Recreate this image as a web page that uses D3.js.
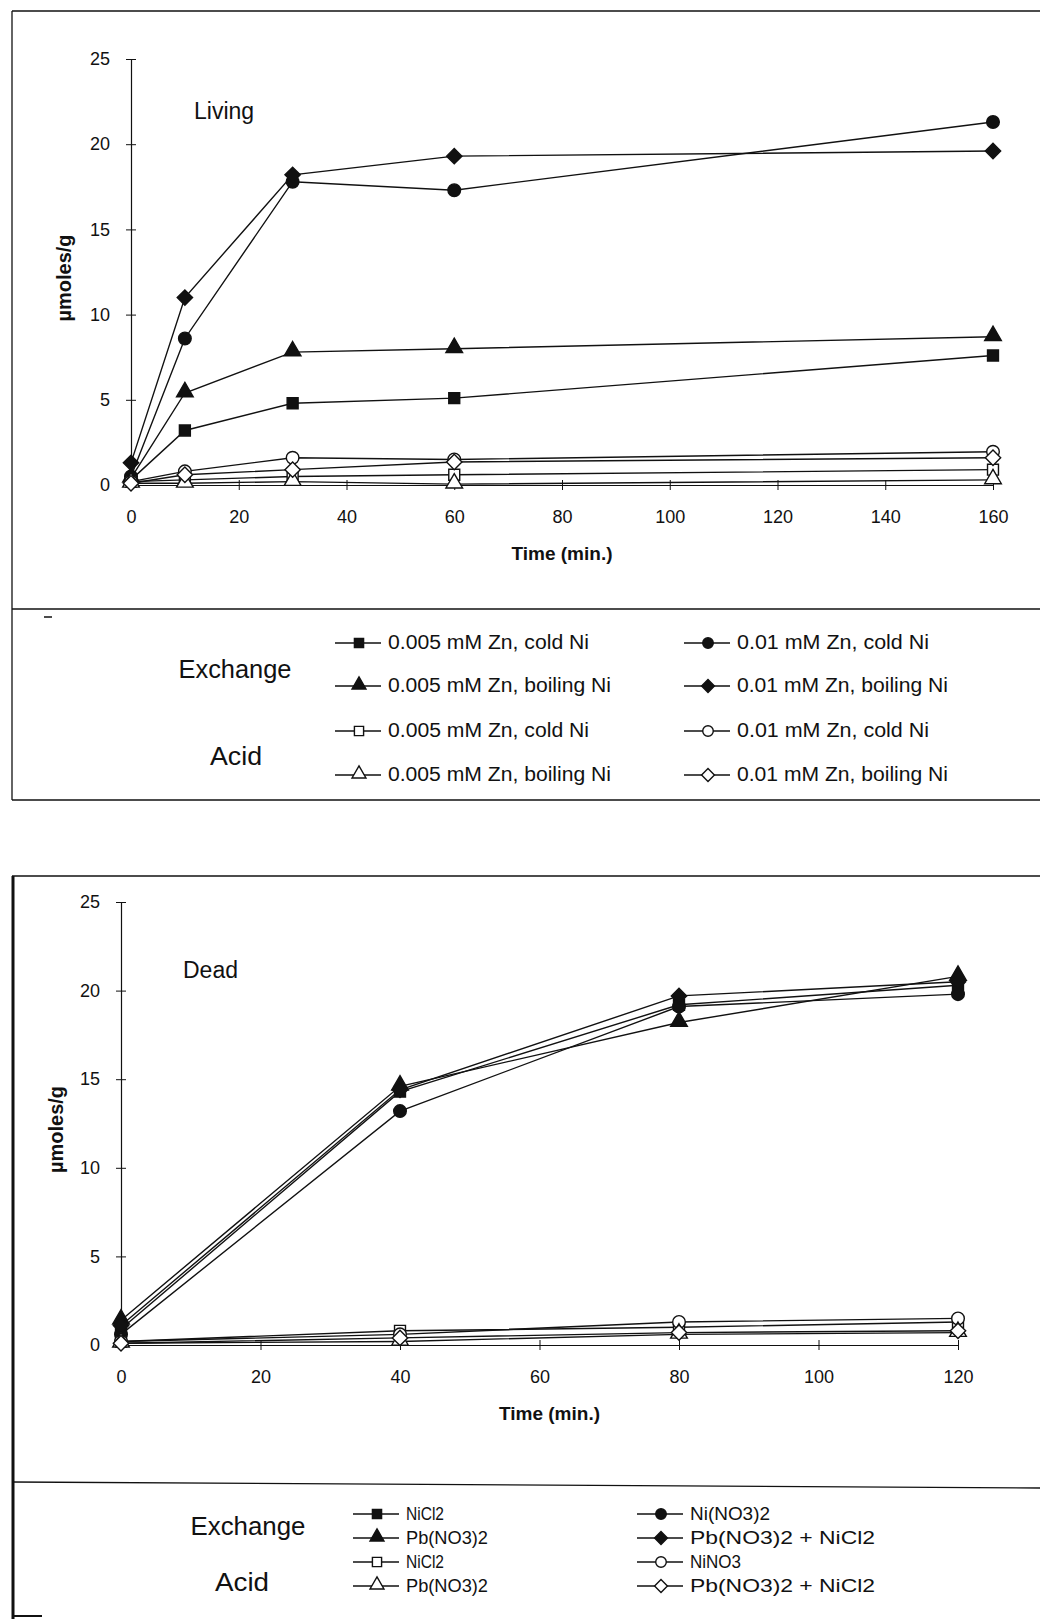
<!DOCTYPE html>
<html>
<head>
  <script src="https://d3js.org/d3.v7.min.js"></script>
  <style>
    body { margin: 0; background: #fff; }
    svg text { font-family: "Liberation Sans", Arial, sans-serif; fill: #111; }
  </style>
</head>
<body>
  <svg id="fig"></svg>
  <script>
    // Living cells (top panel)
    var livingTimes = [0, 10, 30, 60, 160];
    var livingExZnLowCold = [0.3, 3.2, 4.8, 5.1, 7.6];
    var livingExZnHighCold = [0.5, 8.6, 17.8, 17.3, 21.3];
    var livingExZnLowBoil = [0.4, 5.4, 7.8, 8.0, 8.7];
    var livingExZnHighBoil = [1.3, 11.0, 18.2, 19.3, 19.6];
    var livingAcZnLowCold = [0.2, 0.3, 0.5, 0.6, 0.9];
    var livingAcZnHighCold = [0.2, 0.8, 1.6, 1.5, 1.95];
    var livingAcZnLowBoil = [0.1, 0.1, 0.2, 0.05, 0.3];
    var livingAcZnHighBoil = [0.1, 0.6, 0.9, 1.35, 1.6];
    var livingXTicks = [0, 20, 40, 60, 80, 100, 120, 140, 160];

    // Dead cells (bottom panel)
    var deadTimes = [0, 40, 80, 120];
    var deadExNiCl2 = [0.9, 14.3, 19.2, 20.3];
    var deadExNiNO3 = [0.6, 13.2, 19.1, 19.8];
    var deadExPbNO3 = [1.4, 14.6, 18.2, 20.8];
    var deadExPbNi = [1.1, 14.4, 19.7, 20.5];
    var deadAcNiCl2 = [0.2, 0.8, 1.0, 1.3];
    var deadAcNiNO3 = [0.2, 0.6, 1.3, 1.5];
    var deadAcPbNO3 = [0.1, 0.2, 0.6, 0.7];
    var deadAcPbNi = [0.1, 0.4, 0.7, 0.8];
    var deadXTicks = [0, 20, 40, 60, 80, 100, 120];

    var yTicks = [0, 5, 10, 15, 20, 25];

    var width = 1040, height = 1619;
    var svg = d3.select("#fig").attr("width", width).attr("height", height);
    svg.append("rect").attr("width", width).attr("height", height).attr("fill", "#fff");

    var ink = "#111";

    function frameLine(d, w) {
      svg.append("path").attr("d", d).attr("fill", "none")
         .attr("stroke", ink).attr("stroke-width", w || 1.3);
    }

    // panel frames
    frameLine("M12,11H1040");
    frameLine("M12,11V800");
    frameLine("M12,609H1040");
    frameLine("M12,800H1040");
    frameLine("M44,617H52", 1.5);
    frameLine("M12,876H1040");
    frameLine("M13,876V1619", 3);
    frameLine("M12,1482L1040,1488");
    frameLine("M12,1616H42", 2);

    var shapes = {
      square: d3.symbolSquare, circle: d3.symbolCircle,
      triangle: d3.symbolTriangle, diamond: d3.symbolDiamond2
    };
    var sizes = { square: 120, circle: 125, triangle: 120, diamond: 150 };

    function marker(g, shape, filled, x, y, scale) {
      var s = scale || 1;
      g.append("path")
        .attr("d", d3.symbol().type(shapes[shape]).size(sizes[shape] * s)())
        .attr("transform", "translate(" + x + "," + (shape === "triangle" ? y - 1 : y) + ")")
        .attr("fill", filled ? ink : "#fff")
        .attr("stroke", ink).attr("stroke-width", 1.4);
    }

    function panel(opts) {
      var x = d3.scaleLinear().domain(opts.xDomain).range([opts.left, opts.right]);
      var y = d3.scaleLinear().domain([0, 25]).range([opts.bottom, opts.top]);
      var g = svg.append("g");

      var yAxis = g.append("g").attr("transform", "translate(" + opts.left + ",0)")
        .call(d3.axisLeft(y).tickValues(yTicks).tickSize(5).tickPadding(16).tickSizeOuter(0));
      yAxis.selectAll(".tick line").attr("x1", 5).attr("stroke", ink);
      yAxis.select(".domain").attr("stroke", ink).attr("stroke-width", 1.2);
      yAxis.selectAll("text").attr("font-size", 18).attr("fill", ink)
        .attr("font-family", "Liberation Sans, Arial, sans-serif");

      var xAxis = g.append("g").attr("transform", "translate(0," + opts.bottom + ")")
        .call(d3.axisBottom(x).tickValues(opts.xTicks).tickSize(5).tickPadding(20).tickSizeOuter(0));
      xAxis.selectAll(".tick line").attr("y1", -5).attr("stroke", ink);
      xAxis.select(".domain").attr("stroke", ink).attr("stroke-width", 1.2);
      xAxis.selectAll("text").attr("font-size", 18).attr("fill", ink)
        .attr("font-family", "Liberation Sans, Arial, sans-serif");

      g.append("text").attr("x", (opts.left + opts.right) / 2 + opts.titleDx).attr("y", opts.bottom + 75)
        .attr("text-anchor", "middle").attr("font-size", 19).attr("font-weight", "bold")
        .text("Time (min.)");

      g.append("text")
        .attr("transform", "translate(" + opts.yLabelX + "," + ((opts.top + opts.bottom) / 2 + 6) + ") rotate(-90)")
        .attr("text-anchor", "middle").attr("font-size", 20).attr("font-weight", "bold")
        .text("µmoles/g");

      g.append("text").attr("x", opts.nameX).attr("y", opts.nameY)
        .attr("font-size", 23).text(opts.name);

      var line = d3.line().x(function(d) { return x(d[0]); }).y(function(d) { return y(d[1]); });

      opts.series.forEach(function(s) {
        var pts = opts.times.map(function(t, i) { return [t, s.values[i]]; });
        g.append("path").datum(pts).attr("d", line)
          .attr("fill", "none").attr("stroke", ink).attr("stroke-width", 1.4);
      });
      opts.series.forEach(function(s) {
        opts.times.forEach(function(t, i) {
          marker(g, s.shape, s.filled, x(t), y(s.values[i]));
        });
      });

      // legend
      var lg = svg.append("g");
      opts.groupLabels.forEach(function(l) {
        lg.append("text").attr("x", l.x).attr("y", l.y).attr("text-anchor", "middle")
          .attr("font-size", 25).attr("textLength", l.w).attr("lengthAdjust", "spacingAndGlyphs")
          .text(l.text);
      });
      opts.series.forEach(function(s, i) {
        var col = opts.legendCols[s.col];
        var ly = opts.legendRows[s.row];
        lg.append("line").attr("x1", col - 24).attr("x2", col + 22).attr("y1", ly).attr("y2", ly)
          .attr("stroke", ink).attr("stroke-width", 1.4);
        marker(lg, s.shape, s.filled, col, ly, 0.7);
        lg.append("text").attr("x", col + 29).attr("y", ly + 6)
          .attr("font-size", opts.legendFont)
          .attr("textLength", s.w).attr("lengthAdjust", "spacingAndGlyphs")
          .text(s.label);
      });
    }

    panel({
      name: "Living", nameX: 194, nameY: 119,
      xDomain: [0, 160], xTicks: livingXTicks, times: livingTimes,
      left: 131, right: 993, top: 59, bottom: 485,
      titleDx: 0, yLabelX: 71,
      legendCols: [359, 708], legendRows: [643, 686, 731, 775], legendFont: 20,
      groupLabels: [
        { text: "Exchange", x: 235, y: 678, w: 113 },
        { text: "Acid", x: 236, y: 765, w: 52 }
      ],
      series: [
        { label: "0.005 mM Zn, cold Ni", values: livingExZnLowCold, shape: "square", filled: true, col: 0, row: 0, w: 201 },
        { label: "0.01 mM Zn, cold Ni", values: livingExZnHighCold, shape: "circle", filled: true, col: 1, row: 0, w: 192 },
        { label: "0.005 mM Zn, boiling Ni", values: livingExZnLowBoil, shape: "triangle", filled: true, col: 0, row: 1, w: 223 },
        { label: "0.01 mM Zn, boiling Ni", values: livingExZnHighBoil, shape: "diamond", filled: true, col: 1, row: 1, w: 211 },
        { label: "0.005 mM Zn, cold Ni", values: livingAcZnLowCold, shape: "square", filled: false, col: 0, row: 2, w: 201 },
        { label: "0.01 mM Zn, cold Ni", values: livingAcZnHighCold, shape: "circle", filled: false, col: 1, row: 2, w: 192 },
        { label: "0.005 mM Zn, boiling Ni", values: livingAcZnLowBoil, shape: "triangle", filled: false, col: 0, row: 3, w: 223 },
        { label: "0.01 mM Zn, boiling Ni", values: livingAcZnHighBoil, shape: "diamond", filled: false, col: 1, row: 3, w: 211 }
      ]
    });

    panel({
      name: "Dead", nameX: 183, nameY: 978,
      xDomain: [0, 120], xTicks: deadXTicks, times: deadTimes,
      left: 121, right: 958, top: 902, bottom: 1345,
      titleDx: 10, yLabelX: 63,
      legendCols: [377, 661], legendRows: [1514, 1538, 1562, 1586], legendFont: 18,
      groupLabels: [
        { text: "Exchange", x: 248, y: 1535, w: 115 },
        { text: "Acid", x: 242, y: 1591, w: 54 }
      ],
      series: [
        { label: "NiCl2", values: deadExNiCl2, shape: "square", filled: true, col: 0, row: 0, w: 38 },
        { label: "Ni(NO3)2", values: deadExNiNO3, shape: "circle", filled: true, col: 1, row: 0, w: 80 },
        { label: "Pb(NO3)2", values: deadExPbNO3, shape: "triangle", filled: true, col: 0, row: 1, w: 82 },
        { label: "Pb(NO3)2 + NiCl2", values: deadExPbNi, shape: "diamond", filled: true, col: 1, row: 1, w: 185 },
        { label: "NiCl2", values: deadAcNiCl2, shape: "square", filled: false, col: 0, row: 2, w: 38 },
        { label: "NiNO3", values: deadAcNiNO3, shape: "circle", filled: false, col: 1, row: 2, w: 51 },
        { label: "Pb(NO3)2", values: deadAcPbNO3, shape: "triangle", filled: false, col: 0, row: 3, w: 82 },
        { label: "Pb(NO3)2 + NiCl2", values: deadAcPbNi, shape: "diamond", filled: false, col: 1, row: 3, w: 185 }
      ]
    });
  </script>
</body>
</html>
